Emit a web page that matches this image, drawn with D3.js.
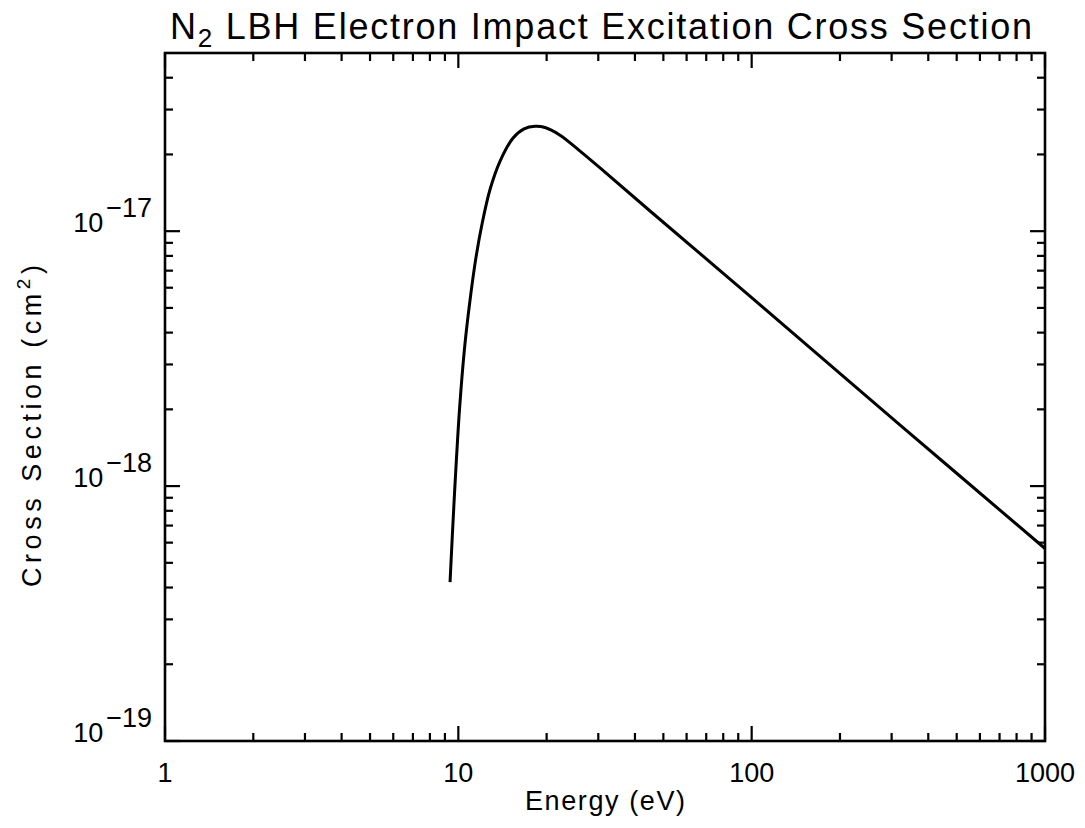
<!DOCTYPE html>
<html><head><meta charset="utf-8">
<script src="https://cdn.jsdelivr.net/npm/d3@7"></script>
<style>body{margin:0;background:#fff}svg{display:block}text{font-family:"Liberation Sans",Arial,sans-serif;fill:#000}</style>
</head><body>
<svg id="c" width="1085" height="828"></svg>
<script>
// Data
const energy = [9.37, 9.67, 10.09, 10.5, 10.96, 11.49, 12.04, 12.83, 13.87, 15.37, 16.75, 18.26, 19.75, 22.22, 26.0, 30.42, 45.04, 100, 320, 1000];
const sigma  = [4.2e-19, 8.66e-19, 1.99e-18, 3.48e-18, 5.36e-18, 7.91e-18, 1.065e-17, 1.46e-17, 1.88e-17, 2.32e-17, 2.52e-17, 2.58e-17, 2.55e-17, 2.38e-17, 2.06e-17, 1.77e-17, 1.20e-17, 5.49e-18, 1.74e-18, 5.69e-19];
const xTickValues = [1, 10, 100, 1000];
const xTickLabels = ["1", "10", "100", "1000"];
const yTickValues = [1e-19, 1e-18, 1e-17];
const yTickExponents = ["\u221219", "\u221218", "\u221217"];
const xDomain = [1, 1000];
const yDomain = [1e-19, 5e-17];
const titleText = ["N", "2", " LBH Electron Impact Excitation Cross Section"];
const xTitle = "Energy (eV)";
const yTitle = ["Cross Section (cm", "2", ")"];

const L = 165, R = 1045, T = 53, B = 741;
const svg = d3.select("#c");
const x = d3.scaleLog().domain(xDomain).range([L, R]);
const y = d3.scaleLog().domain(yDomain).range([B, T]);

function minors(dom) {
  const out = [];
  for (let e = Math.floor(Math.log10(dom[0])); e <= Math.ceil(Math.log10(dom[1])); e++) {
    for (let m = 2; m <= 9; m++) {
      const v = m * Math.pow(10, e);
      if (v > dom[0] * 1.0001 && v < dom[1] * 0.9999) out.push(v);
    }
  }
  return out;
}
const MAJ = 15, MIN = 8;
const g = svg.append("g").attr("stroke", "#000").attr("stroke-width", 2.2);
xTickValues.forEach(v => {
  g.append("line").attr("x1", x(v)).attr("x2", x(v)).attr("y1", B).attr("y2", B - MAJ);
  g.append("line").attr("x1", x(v)).attr("x2", x(v)).attr("y1", T).attr("y2", T + MAJ);
});
minors(xDomain).forEach(v => {
  g.append("line").attr("x1", x(v)).attr("x2", x(v)).attr("y1", B).attr("y2", B - MIN);
  g.append("line").attr("x1", x(v)).attr("x2", x(v)).attr("y1", T).attr("y2", T + MIN);
});
yTickValues.forEach(v => {
  g.append("line").attr("y1", y(v)).attr("y2", y(v)).attr("x1", L).attr("x2", L + MAJ);
  g.append("line").attr("y1", y(v)).attr("y2", y(v)).attr("x1", R).attr("x2", R - MAJ);
});
minors(yDomain).forEach(v => {
  g.append("line").attr("y1", y(v)).attr("y2", y(v)).attr("x1", L).attr("x2", L + MIN);
  g.append("line").attr("y1", y(v)).attr("y2", y(v)).attr("x1", R).attr("x2", R - MIN);
});
svg.append("rect").attr("x", L).attr("y", T).attr("width", R - L).attr("height", B - T)
  .attr("fill", "none").attr("stroke", "#000").attr("stroke-width", 2.6);

// curve
const line = d3.line().x(d => x(d[0])).y(d => y(d[1])).curve(d3.curveCatmullRom.alpha(0.5));
svg.append("path").datum(energy.map((e, i) => [e, sigma[i]]))
  .attr("d", line).attr("fill", "none").attr("stroke", "#000").attr("stroke-width", 3)
  .attr("stroke-linejoin", "round");

// x tick labels
xTickValues.forEach((v, i) => {
  svg.append("text").attr("x", x(v)).attr("y", 782).attr("text-anchor", "middle")
    .attr("font-size", 27).text(xTickLabels[i]);
});
// y tick labels
yTickValues.forEach((v, i) => {
  const t = svg.append("text").attr("x", 152).attr("y", y(v) + 1).attr("text-anchor", "end").attr("font-size", 27);
  t.append("tspan").text("10");
  t.append("tspan").attr("dy", -15).attr("dx", 3).text(yTickExponents[i]);
});
// titles
const tt = svg.append("text").attr("x", 170).attr("y", 39).attr("font-size", 36)
  .attr("textLength", 862).attr("lengthAdjust", "spacing");
tt.append("tspan").text(titleText[0]);
tt.append("tspan").attr("dy", 8).attr("font-size", 26).text(titleText[1]);
tt.append("tspan").attr("dy", -8).text(titleText[2]);

svg.append("text").attr("x", (L + R) / 2).attr("y", 810).attr("text-anchor", "middle")
  .attr("font-size", 27).attr("textLength", 160).attr("lengthAdjust", "spacing").text(xTitle);

const yt = svg.append("text").attr("transform", "translate(41,426) rotate(-90)")
  .attr("text-anchor", "middle").attr("font-size", 27).attr("textLength", 322).attr("lengthAdjust", "spacing");
yt.append("tspan").text(yTitle[0]);
yt.append("tspan").attr("dy", -11).attr("font-size", 19).text(yTitle[1]);
yt.append("tspan").attr("dy", 11).text(yTitle[2]);
</script>
</body></html>
